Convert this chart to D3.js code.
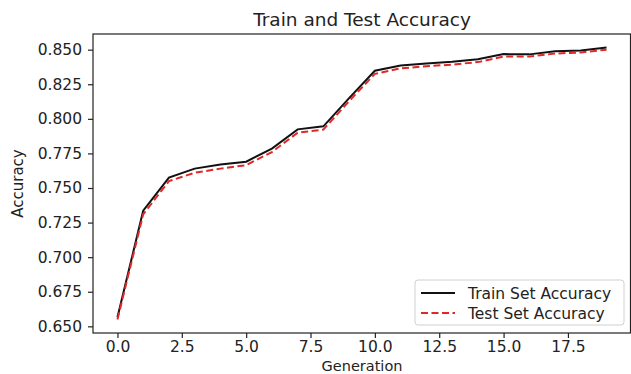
<!DOCTYPE html>
<html>
<head>
<meta charset="utf-8">
<script src="https://cdn.jsdelivr.net/npm/d3@7"></script>
<style>
  body { margin: 0; background: #fff; }
  svg text { font-family: 'DejaVu Sans', sans-serif; fill: #222; }
</style>
</head>
<body>
<div id="chart"></div>
<script>
// generations and accuracies
const generations = [0, 1, 2, 3, 4, 5, 6, 7, 8, 9, 10, 11, 12, 13, 14, 15, 16, 17, 18, 19];
const trainAcc = [0.6565, 0.7336, 0.7575, 0.7640, 0.7670, 0.7690, 0.7785, 0.7924, 0.7946, 0.8150,
                  0.8348, 0.8385, 0.8400, 0.8412, 0.8430, 0.8468, 0.8466, 0.8488, 0.8494, 0.8515];
const testAcc = [0.6550, 0.7310, 0.7550, 0.7610, 0.7640, 0.7665, 0.7760, 0.7900, 0.7922, 0.8128,
                 0.8325, 0.8365, 0.8380, 0.8392, 0.8410, 0.8450, 0.8450, 0.8472, 0.8480, 0.8500];
const xTicks = [0, 2.5, 5, 7.5, 10, 12.5, 15, 17.5];
const yTicks = [0.650, 0.675, 0.700, 0.725, 0.750, 0.775, 0.800, 0.825, 0.850];
const seriesNames = ['Train Set Accuracy', 'Test Set Accuracy'];

const width = 631, height = 374;
const margin = {top: 34, right: 0, bottom: 41, left: 93};

const svg = d3.select('#chart').append('svg')
    .attr('width', width)
    .attr('height', height);

// matplotlib style 5% padding
const allVals = trainAcc.concat(testAcc);
const yMin = d3.min(allVals), yMax = d3.max(allVals);
const yPad = (yMax - yMin) * 0.05;
const xPad = (d3.max(generations) - d3.min(generations)) * 0.05;

const x = d3.scaleLinear()
    .domain([d3.min(generations) - xPad, d3.max(generations) + xPad])
    .range([margin.left, width - margin.right]);
const y = d3.scaleLinear()
    .domain([yMin - yPad, yMax + yPad])
    .range([height - margin.bottom, margin.top]);

// axes
const xAxis = svg.append('g')
    .attr('transform', 'translate(0,' + (height - margin.bottom) + ')')
    .call(d3.axisBottom(x).tickValues(xTicks).tickSize(5).tickPadding(3)
        .tickFormat(d3.format('.1f')));
const yAxis = svg.append('g')
    .attr('transform', 'translate(' + margin.left + ',0)')
    .call(d3.axisLeft(y).tickValues(yTicks).tickSize(5).tickPadding(6)
        .tickFormat(d3.format('.3f')));

[xAxis, yAxis].forEach(function (a) {
    a.selectAll('text').style('font-size', '15.5px').style('font-family', "'DejaVu Sans', sans-serif").attr('fill', '#222');
    a.selectAll('line').attr('stroke', '#222').attr('stroke-width', 1.2);
    a.select('.domain').remove();
});

// frame
svg.append('rect')
    .attr('x', margin.left)
    .attr('y', margin.top)
    .attr('width', width - margin.right - margin.left - 0.5)
    .attr('height', height - margin.bottom - margin.top)
    .attr('fill', 'none')
    .attr('stroke', '#222')
    .attr('stroke-width', 1.2);

// lines
const line = d3.line()
    .x(function (d, i) { return x(generations[i]); })
    .y(function (d) { return y(d); });

svg.append('path')
    .datum(trainAcc)
    .attr('d', line)
    .attr('fill', 'none')
    .attr('stroke', '#111')
    .attr('stroke-width', 2);

svg.append('path')
    .datum(testAcc)
    .attr('d', line)
    .attr('fill', 'none')
    .attr('stroke', '#e02828')
    .attr('stroke-width', 2)
    .attr('stroke-dasharray', '7,3.5');

// title and labels
svg.append('text')
    .attr('x', (margin.left + width - margin.right) / 2)
    .attr('y', 26)
    .attr('text-anchor', 'middle')
    .style('font-size', '18.5px')
    .text('Train and Test Accuracy');

svg.append('text')
    .attr('x', (margin.left + width - margin.right) / 2)
    .attr('y', 370.5)
    .attr('text-anchor', 'middle')
    .style('font-size', '14.5px')
    .text('Generation');

svg.append('text')
    .attr('transform', 'translate(23,' + ((margin.top + height - margin.bottom) / 2) + ') rotate(-90)')
    .attr('text-anchor', 'middle')
    .style('font-size', '15px')
    .text('Accuracy');

// legend
const legend = svg.append('g').attr('transform', 'translate(415,280)');
legend.append('rect')
    .attr('width', 209)
    .attr('height', 45)
    .attr('rx', 3)
    .attr('fill', 'rgba(255,255,255,0.8)')
    .attr('stroke', '#d0d0d0');

const styles = [
    {stroke: '#111', dash: null},
    {stroke: '#e02828', dash: '7,3.5'}
];
seriesNames.forEach(function (name, i) {
    const row = legend.append('g').attr('transform', 'translate(0,' + (13 + i * 20) + ')');
    row.append('line')
        .attr('x1', 6).attr('x2', 40)
        .attr('y1', 0).attr('y2', 0)
        .attr('stroke', styles[i].stroke)
        .attr('stroke-width', 2)
        .attr('stroke-dasharray', styles[i].dash);
    row.append('text')
        .attr('x', 53)
        .attr('y', 5.5)
        .style('font-size', '15.5px')
        .text(name);
});
</script>
</body>
</html>
